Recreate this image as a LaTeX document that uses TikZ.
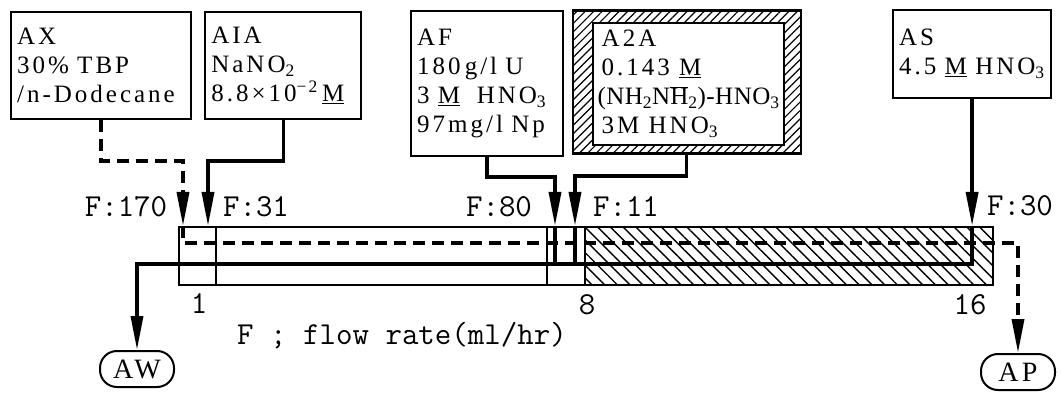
\documentclass[tikz,border=0pt]{standalone}
\usepackage{fontspec}
\setmainfont{Liberation Serif}
\newfontfamily\boxfont{Liberation Serif}[LetterSpace=12]
\usetikzlibrary{arrows.meta, positioning, patterns.meta}
\newcommand{\molar}{\underline{M}}

\begin{document}
\begin{tikzpicture}[
        x=1pt, y=-1pt,
        feedbox/.style={draw, line width=2.2pt, anchor=north west, align=left, inner xsep=6pt, inner ysep=0pt, font=\fontsize{25}{29}\selectfont\boxfont},
        pill/.style={draw, line width=2pt, rounded corners=17pt, minimum width=74pt, minimum height=36pt, inner sep=0pt, font=\fontsize{28}{28}\selectfont\boxfont},
        label/.style={inner sep=0pt, font=\fontsize{32}{32}\selectfont\ttfamily},
        pipe/.style={line width=3.5pt},
        flow/.style={pipe, -{Triangle[length=34pt, width=12pt]}},
        dashflow/.style={flow, dash pattern=on 12pt off 7pt},
        divider/.style={line width=1.6pt}
    ]
    \useasboundingbox (0,0) rectangle (1061,393);

    % feed boxes
    \node[feedbox, text width=168pt, minimum height=107pt] (ax) at (10,11) {AX\\30\% TBP\\/n-Dodecane};
    \node[feedbox, text width=144pt, minimum height=107pt, right=12pt of ax] (aia) {AIA\\NaNO\textsubscript{2}\\8.8×10\textsuperscript{−2}\,\molar};
    \node[feedbox, text width=140pt, minimum height=145pt] (af) at (410,10) {AF\\180\,g/l U\\3 \molar\ \ HNO\textsubscript{3}\\97mg/l Np};
    \node[feedbox, minimum width=228pt, minimum height=143pt, pattern={Lines[angle=45, distance=6pt, line width=1.2pt]}] (a2aframe) at (572,10) {};
    \node[feedbox, fill=white, inner xsep=2pt, minimum width=191pt, minimum height=122pt] (a2a) at (592,22)
        {\,A2A\\\,0.143 \molar\\{\addfontfeature{LetterSpace=2}(NH\textsubscript{2}N$\overline{\mbox{H}}$\textsubscript{2})-HNO\textsubscript{3}}\\\,3M HNO\textsubscript{3}};
    \node[feedbox, text width=146pt, minimum height=88pt] (as) at (892,9) {AS\\4.5 \molar\ HNO\textsubscript{3}};

    % column
    \path[pattern={Lines[angle=-45, distance=9pt, line width=1.4pt]}] (585,226) rectangle (992,284);
    \node[draw, line width=2pt, anchor=north west, minimum width=814pt, minimum height=58pt, inner sep=0pt] (col) at (178,226) {};
    \foreach \x in {216, 547, 585}
        \draw[divider] (\x,226) -- (\x,284);

    \node[pill] (aw) at (137,369) {AW};
    \node[pill] (ap) at (1018,372) {AP};

    \coordinate (orgline) at (0,243);
    \coordinate (aqline) at (0,264);
    \coordinate (inax) at (183,226);
    \coordinate (inaia) at (208,226);
    \coordinate (inaf) at (555,226);
    \coordinate (ina2a) at (575,226);
    \coordinate (inas) at (as.south |- col.north);

    % feeds into the column
    \draw[dashflow] (ax.south) -- ++(0,41) -| (inax);
    \draw[flow] (aia.south) -- ++(0,41) -| (inaia);
    \draw[flow] (af.south) -- ++(0,20) -| (inaf);
    \draw[flow] (a2aframe.south) -- ++(0,22) -| (ina2a);
    \draw[flow] (as.south) -- (inas);

    % streams through the column
    \draw[dashflow] (inax) |- (ap.north |- orgline) -- (ap.north);
    \draw[flow] (inas) |- (aw.north |- aqline) -- (aw.north);
    \draw[pipe] (inaf) -- (inaf |- aqline);
    \draw[pipe] (ina2a) -- (ina2a |- aqline);

    % labels
    \node[label] (f170) at (126,207) {F:170};
    \node[label] (f31) at (256,207) {F:31};
    \node[label] (f80) at (499,207) {F:80};
    \node[label] (f11) at (626,207) {F:11};
    \node[label] (f30) at (1020,206) {F:30};
    \node[label] (st1) at (199,304) {1};
    \node[label] (st8) at (587,305) {8};
    \node[label] (st16) at (970,305) {16};
    \node[label] (flowrate) at (402,336) {F ; flow rate(ml/hr)};
\end{tikzpicture}
\end{document}
